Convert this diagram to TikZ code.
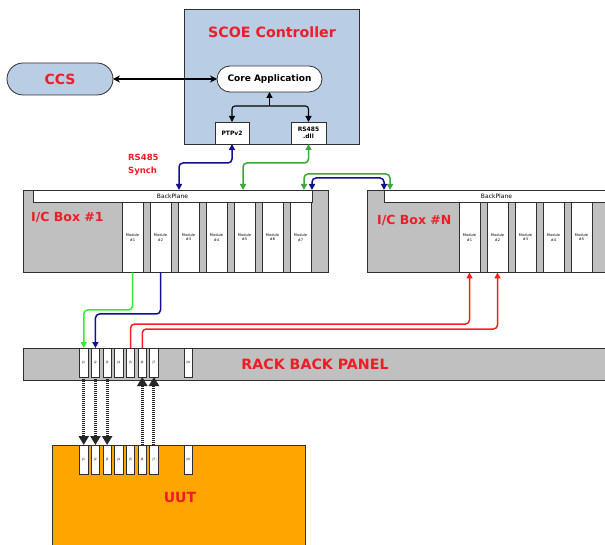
\documentclass[tikz,border=0pt]{standalone}
\usepackage{fontspec}
\setmainfont{DejaVu Sans}
\usetikzlibrary{arrows.meta}
\definecolor{lblue}{HTML}{B9CDE5}
\definecolor{boxgray}{HTML}{C0C0C0}
\definecolor{uutorange}{HTML}{FFA500}
\definecolor{tred}{HTML}{EE1C25}
\definecolor{dgreen}{HTML}{3DA63D}
\definecolor{lgreen}{HTML}{33EE33}
\definecolor{navy}{HTML}{101090}
\definecolor{wred}{HTML}{FF1E1E}
\definecolor{edge}{HTML}{303030}
\begin{document}
\begin{tikzpicture}[x=1pt,y=-1pt,
  frame/.style={draw=edge, line width=0.8pt, inner sep=0pt, outer sep=0pt, anchor=north west},
  graybox/.style={frame, fill=boxgray},
  whitebox/.style={frame, fill=white},
  modbox/.style={whitebox, minimum width=21pt, minimum height=70pt, align=center, font=\fontsize{3.6}{4.3}\selectfont},
  slotbox/.style={whitebox, minimum width=8.5pt, minimum height=29pt, font=\fontsize{3}{3.5}\selectfont},
  title/.style={font=\fontsize{#1}{#1}\selectfont\bfseries, text=tred, inner sep=0pt},
  wire/.style={line width=1.5pt, rounded corners=4pt, -{Triangle[width=6pt,length=6pt]}},
  dwire/.style={line width=1.5pt, rounded corners=4pt, {Triangle[width=6pt,length=6pt]}-{Triangle[width=6pt,length=6pt]}},
  kline/.style={line width=1.1pt, draw=black, rounded corners=3pt},
  dots/.style={line width=3pt, dash pattern=on 1pt off 1pt, draw=black!85, -{Triangle[width=10pt,length=9pt]}},
]
\useasboundingbox (0,0) rectangle (605,545);
\fill[white] (0,0) rectangle (605,545);
\clip (0,0) rectangle (605,545);

% SCOE controller
\node[frame, fill=lblue, minimum width=175pt, minimum height=135pt] (scoe) at (184,9) {};
\node[title=14.2] (scoetitle) at (272,32) {SCOE Controller};
\node[frame, fill=white, rounded corners=13pt, minimum width=105pt, minimum height=26pt, anchor=center, font=\fontsize{9}{10}\selectfont\bfseries] (core) at (269.5,79) {Core Application};
\node[whitebox, minimum width=34pt, minimum height=22pt, font=\fontsize{6}{7}\selectfont\bfseries] (ptp) at (215,122) {PTPv2};
\node[whitebox, minimum width=35pt, minimum height=22pt, align=center, font=\fontsize{6}{7.5}\selectfont\bfseries] (rs) at (291,122) {RS485\\.dll};

% CCS
\node[frame, fill=lblue, rounded corners=16pt, minimum width=106pt, minimum height=32pt, anchor=center, title=14] (ccs) at (60,79) {CCS};
\draw[line width=1.1pt, {Stealth[width=7pt,length=7pt]}-{Stealth[width=7pt,length=7pt]}] (ccs.east) -- (core.west);

% core app branches
\coordinate (jn) at (269.5,106);
\draw[kline, -{Triangle[width=6pt,length=6pt]}] (jn) -- (core.south);
\draw[kline, -{Triangle[width=6pt,length=6pt]}] (jn) -| (ptp.north);
\draw[kline, -{Triangle[width=6pt,length=6pt]}] (jn) -| (rs.north);

\node[anchor=west, inner sep=0pt, text=tred, align=left, font=\fontsize{8.5}{13.5}\selectfont\bfseries] (synch) at (128,165) {RS485\\Synch};

% I/C Box #1
\node[graybox, minimum width=305pt, minimum height=82pt] (box1) at (23,190) {};
\node[whitebox, minimum width=279pt, minimum height=12.5pt, font=\fontsize{6}{7}\selectfont] (bp1) at (33,190) {BackPlane};
\node[title=12.5, anchor=west] (box1lab) at (31,217.5) {I/C Box \#1};
\foreach \i in {1,...,7}{
  \node[modbox] (ma\i) at ({122+(\i-1)*28},202.5) {Module\\\#\i};
}

% I/C Box #N
\node[graybox, minimum width=260pt, minimum height=82pt] (boxN) at (367,190) {};
\node[whitebox, minimum width=225pt, minimum height=12.5pt, font=\fontsize{6}{7}\selectfont] (bpN) at (384,190) {BackPlane};
\node[title=12.5, anchor=west] (boxNlab) at (377,220) {I/C Box \#N};
\foreach \i in {1,...,5}{
  \node[modbox] (mb\i) at ({459+(\i-1)*28},202.5) {Module\\\#\i};
}

% Rack back panel
\node[graybox, minimum width=600pt, minimum height=32pt] (rack) at (23,348) {};
\node[title=14.2] (racklab) at (315,364) {RACK BACK PANEL};
\foreach \i in {1,...,7}{
  \node[slotbox] (r\i) at ({79.5+(\i-1)*11.7},348) {J\i};
}
\node[slotbox] (rN) at (184,348) {JN};

% UUT
\node[frame, fill=uutorange, minimum width=253pt, minimum height=120pt] (uut) at (52,445) {};
\node[title=14] (uutlab) at (180,497) {UUT};
\foreach \i in {1,...,7}{
  \node[slotbox] (u\i) at ({79.5+(\i-1)*11.7},445) {J\i};
}
\node[slotbox] (uN) at (184,445) {JN};

% top wires
\draw[dwire, navy] (ptp.south) -- ++(0,19) -| (179,0 |- bp1.north);
\draw[dwire, dgreen] (rs.south) -- ++(0,19) -| (243,0 |- bp1.north);
\draw[dwire, dgreen] (304,0 |- bp1.north) -- (304,174) -| (390,0 |- bpN.north);
\draw[dwire, navy] (bp1.north east) -- (312,178) -| (bpN.north west);

% bottom wires
\draw[wire, lgreen] (ma1.south) -- (ma1.south |- 0,310) -| (r1.north);
\draw[wire, navy] (ma2.south) -- (ma2.south |- 0,314) -| (r2.north);
\draw[wire, wred] (r5.north) -- (r5.north |- 0,324) -| (mb1.south);
\draw[wire, wred] (r6.north) -- (r6.north |- 0,329) -| (mb2.south);

% dotted links
\foreach \i in {1,2,3}{
  \draw[dots] (r\i.south) -- (u\i.north);
}
\foreach \i in {6,7}{
  \draw[dots] (u\i.north) -- (r\i.south);
}
\end{tikzpicture}
\end{document}
